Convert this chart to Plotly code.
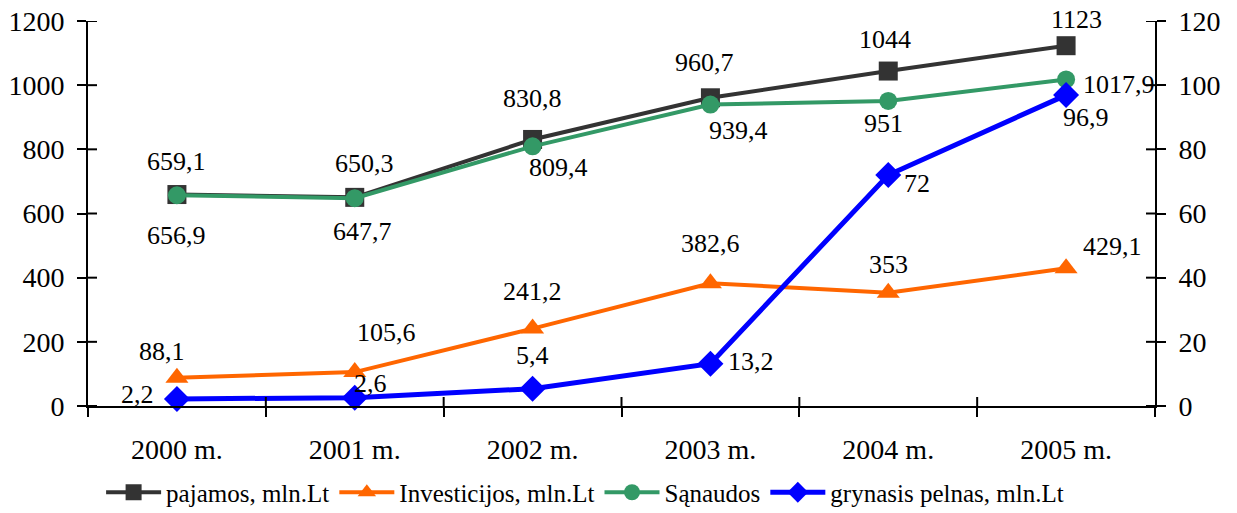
import plotly.graph_objects as go

years = ["2000 m.", "2001 m.", "2002 m.", "2003 m.", "2004 m.", "2005 m."]
pajamos = [659.1, 650.3, 830.8, 960.7, 1044, 1123]
investicijos = [88.1, 105.6, 241.2, 382.6, 353, 429.1]
sanaudos = [656.9, 647.7, 809.4, 939.4, 951, 1017.9]
pelnas = [2.2, 2.6, 5.4, 13.2, 72, 96.9]

left_ticks = [0, 200, 400, 600, 800, 1000, 1200]
right_ticks = [0, 20, 40, 60, 80, 100, 120]

# label offsets (pixels, x right / y down) for each point's value label
off_pajamos = [(0, -33), (10, -34), (0, -41), (-6, -35), (-3, -32), (10, -26)]
off_sanaudos = [(0, 40), (8, 33), (26, 21), (28, 26), (-5, 23), (53, 5)]
off_invest = [(-15, -26), (32, -40), (0, -37), (0, -40), (0, -28), (46, -22)]
off_pelnas = [(-39, -4), (16, -14), (0, -33), (41, -2), (29, 8), (20, 22)]

FONT = "Liberation Serif"
FS_LABEL = 26
FS_TICK = 28
FS_LEGEND = 25

fig = go.Figure()

series = [
    ("pajamos, mln.Lt", pajamos, "#333333", "square", 19, "y", off_pajamos, 4),
    ("Investicijos, mln.Lt", investicijos, "#FF6600", "triangle-up", 20, "y", off_invest, 4),
    ("Sąnaudos", sanaudos, "#339966", "circle", 18, "y", off_sanaudos, 4),
    ("grynasis pelnas, mln.Lt", pelnas, "#0000FF", "diamond", 20, "y2", off_pelnas, 5),
]

annotations = []
for name, vals, color, sym, size, yax, offs, lw in series:
    fig.add_trace(go.Scatter(
        x=years, y=vals, name=name, mode="lines+markers",
        line=dict(color=color, width=lw),
        marker=dict(symbol=sym, size=size, color=color, line=dict(width=0)),
        yaxis=yax, cliponaxis=False,
    ))
    for xv, v, (dx, dy) in zip(years, vals, offs):
        annotations.append(dict(
            x=xv, y=v, xref="x", yref=yax, text=f"{v:g}".replace(".", ","),
            showarrow=False, xshift=dx, yshift=-dy,
            font=dict(family=FONT, size=FS_LABEL, color="black"),
        ))

# inner halves of the crossing tick marks
shapes = []
for t in left_ticks:
    shapes.append(dict(type="line", xref="paper", xsizemode="pixel", xanchor=0,
                       x0=0, x1=9, yref="y", y0=t, y1=t,
                       line=dict(color="black", width=2)))
for t in right_ticks:
    shapes.append(dict(type="line", xref="paper", xsizemode="pixel", xanchor=1,
                       x0=-9, x1=0, yref="y2", y0=t, y1=t,
                       line=dict(color="black", width=2)))
for i in range(len(years) - 1):
    shapes.append(dict(type="line", yref="paper", ysizemode="pixel", yanchor=0,
                       y0=0, y1=9, xref="x", x0=i + 0.5, x1=i + 0.5,
                       line=dict(color="black", width=2)))

tick_font = dict(family=FONT, size=FS_TICK, color="black")

fig.update_layout(
    width=1237, height=513,
    margin=dict(l=88, r=82, t=21, b=107),
    paper_bgcolor="white", plot_bgcolor="white",
    font=dict(family=FONT, size=FS_LABEL, color="black"),
    showlegend=True,
    legend=dict(orientation="h", xref="container", yref="container",
                x=0.473, xanchor="center", y=0.04, yanchor="middle",
                font=dict(family=FONT, size=FS_LEGEND), itemwidth=55,
                traceorder="normal", tracegroupgap=0),
    xaxis=dict(type="category", range=[-0.5, 5.5], showgrid=False,
               showline=True, linecolor="black", linewidth=2,
               ticks="outside", ticklen=9, tickwidth=2, tickcolor="black",
               tickson="boundaries", ticklabelstandoff=17, zeroline=False,
               tickfont=tick_font, automargin=False),
    yaxis=dict(range=[0, 1200], tickvals=left_ticks, showgrid=False,
               showline=True, linecolor="black", linewidth=2,
               ticks="outside", ticklen=9, tickwidth=2, tickcolor="black",
               zeroline=False, ticklabelstandoff=7, tickfont=tick_font,
               automargin=False),
    yaxis2=dict(range=[0, 120], tickvals=right_ticks, overlaying="y", side="right",
                showgrid=False, showline=True, linecolor="black", linewidth=2,
                ticks="outside", ticklen=9, tickwidth=2, tickcolor="black",
                zeroline=False, anchor="x", ticklabelstandoff=7,
                tickfont=tick_font, automargin=False),
    annotations=annotations,
    shapes=shapes,
)

fig.write_html("out.html")
